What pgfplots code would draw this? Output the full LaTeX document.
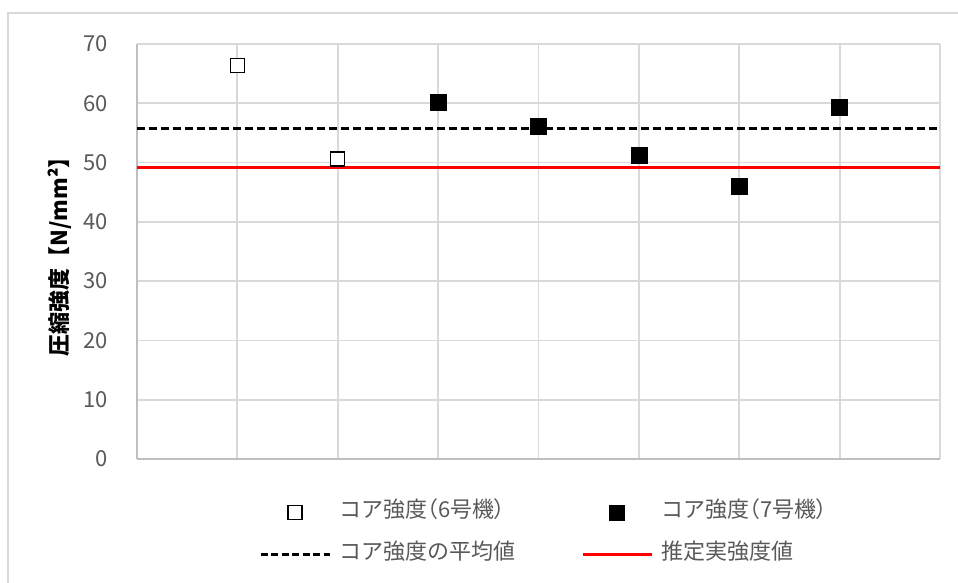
\documentclass[border=0pt]{standalone}
\usepackage{pgfplots}
\pgfplotsset{compat=1.18}
\usepackage{fontspec}
\setmainfont{Noto Sans CJK JP}
\definecolor{gridc}{HTML}{D9D9D9}
\definecolor{axisc}{HTML}{BFBFBF}
\definecolor{txt}{HTML}{595959}
\definecolor{exred}{HTML}{FF0000}
\newcommand{\cfont}{\fontsize{22bp}{26bp}\selectfont}
\newcommand{\pp}[1]{{\addfontfeature{RawFeature=+palt}#1}}

\begin{document}
\begin{tikzpicture}
\cfont
\path[use as bounding box] (-137bp,-124bp) rectangle (821bp,459bp);
\draw[gridc, line width=1.5bp] (-129bp,-140bp) rectangle (840bp,446bp);
\begin{axis}[
  at={(0,0)}, anchor=south west,
  width=803bp, height=415bp, scale only axis,
  xmin=0, xmax=8, ymin=0, ymax=70,
  xtick={0,...,8}, xticklabels={},
  ytick={0,10,...,70},
  grid=major, grid style={gridc, line width=1.8bp},
  axis x line*=bottom, axis y line*=left,
  axis line style={axisc, line width=1.8bp, -},
  major tick length=0pt,
  /pgf/number format/assume math mode=true,
  yticklabel style={anchor=east, inner sep=0pt, xshift=-29bp, text=txt, font=\cfont},
  ylabel={\bfseries 圧縮強度【N/mm²】},
  ylabel style={at={(axis description cs:-0.0959,0.5)}, anchor=center, font=\cfont},
  legend columns=2,
  legend cell align=left,
  legend style={at={(axis description cs:0.152,-0.1025)}, anchor=north west,
    draw=none, fill=none, inner sep=0pt, text=txt, font=\cfont,
    nodes={inner sep=0pt, text height=16bp, text depth=6bp},
    row sep=20bp,
    /tikz/every odd column/.append style={column sep=8bp},
    /tikz/every even column/.append style={column sep=66bp}},
  legend image code/.code={\draw[mark repeat=2,mark phase=2,#1] plot coordinates {(0bp,0bp) (34.5bp,0bp) (69bp,0bp)};},
]
% legend entries in the reference order
\addlegendimage{only marks, mark=square*, mark size=7bp, mark options={fill=white, draw=black, line width=1.3bp}}
\addlegendentry{コア強度\pp{（}6号機\pp{）}}
\addlegendimage{only marks, mark=square*, mark size=7.5bp, black}
\addlegendentry{コア強度\pp{（}7号機\pp{）}}
\addlegendimage{black, line width=2.8bp, dash pattern=on 7bp off 3.5bp}
\addlegendentry{コア強度の平均値}
\addlegendimage{exred, line width=3bp}
\addlegendentry{推定実強度値}

% mean and estimated strength lines
\addplot[forget plot, black, line width=3bp, dash pattern=on 8bp off 4bp] coordinates {(0,55.7) (8,55.7)};
\addplot[forget plot, exred, line width=3bp] coordinates {(0,49.1) (8,49.1)};

% core strength
\addplot[forget plot, only marks, mark=square*, mark size=7bp, mark options={fill=white, draw=black, line width=1.3bp}]
  coordinates {(1,66.4) (2,50.6)};
\addplot[forget plot, only marks, mark=square*, mark size=8bp, black]
  coordinates {(3,60.2) (4,56.1) (5,51.3) (6,46.0) (7,59.3)};
\end{axis}
\end{tikzpicture}
\end{document}
